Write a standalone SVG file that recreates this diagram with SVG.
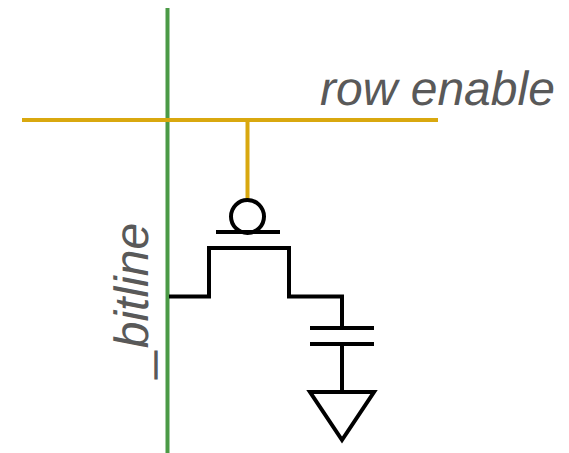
<svg xmlns="http://www.w3.org/2000/svg" width="569" height="453" viewBox="0 0 569 453">
<style>
.w{fill:none;stroke:#000;stroke-width:4;stroke-linejoin:miter;stroke-linecap:butt}
.l{font-family:"Liberation Sans",Arial,sans-serif;font-style:italic;font-size:48px;fill:#595959;text-rendering:geometricPrecision}
.u{stroke:#595959;stroke-width:1.5}
</style>
<rect width="569" height="453" fill="#fff"/>
<g id="connectors">
<path d="M167.500 8V453" fill="none" stroke="#4b9a46" stroke-width="4"/>
<path d="M22 120H438" fill="none" stroke="#d9a80f" stroke-width="4"/>
<path d="M247.500 120V200" fill="none" stroke="#d9a80f" stroke-width="4"/>
<path class="w" d="M169 296.500H209V248H289V296.500H342V327"/>
<path class="w" d="M342 344V392"/>
</g>
<g id="transistor">
<circle class="w" cx="247.500" cy="216.500" r="16.500"/>
<path class="w" d="M216 232H280"/>
</g>
<g id="capacitor">
<path class="w" d="M310 328H374M310 344H374"/>
</g>
<g id="ground">
<path class="w" d="M310 392H374L342 440Z"/>
</g>
<g id="labels">
<text class="l" x="320" y="105">row enable</text>
<text class="l" transform="translate(148 375) rotate(-90)"><tspan class="u" dy="2.500">_</tspan><tspan dy="-2.500">bitline</tspan></text>
</g>
</svg>
